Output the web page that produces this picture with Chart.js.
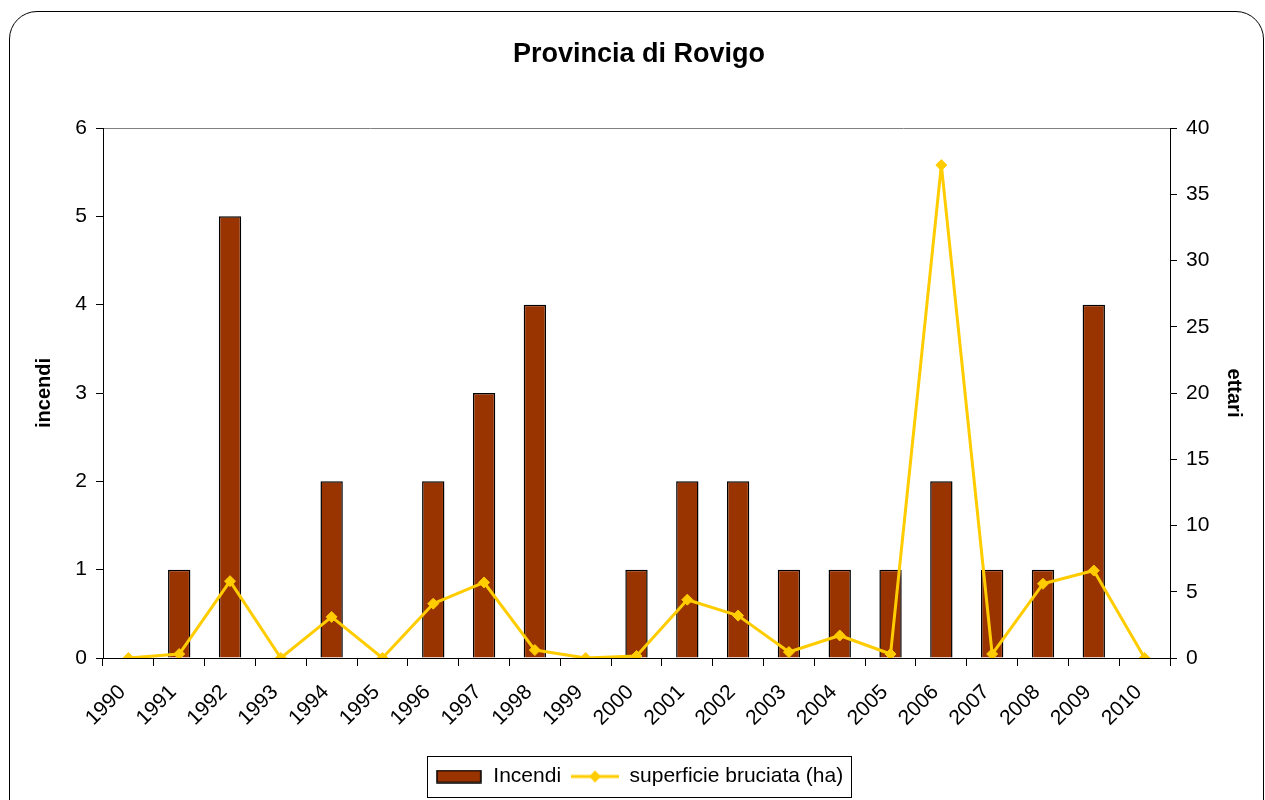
<!DOCTYPE html>
<html>
<head>
<meta charset="utf-8">
<script src="https://cdn.jsdelivr.net/npm/chart.js@4"></script>
<style>
  html, body { margin: 0; padding: 0; background: #fff; overflow: hidden; }
  #frame {
    position: absolute; left: 9px; top: 11px; width: 1253px; height: 820px;
    border: 1.5px solid #000; border-radius: 28px;
  }
  #chart { position: absolute; left: 0; top: 0; }
</style>
</head>
<body>
<div id="frame"></div>
<canvas id="chart" width="1265" height="800"></canvas>
<script>
  "use strict";

  // data
  var years = ["1990", "1991", "1992", "1993", "1994", "1995", "1996", "1997", "1998", "1999", "2000",
    "2001", "2002", "2003", "2004", "2005", "2006", "2007", "2008", "2009", "2010"];
  var incendi = [0, 1, 5, 0, 2, 0, 2, 3, 4, 0, 1, 2, 2, 1, 1, 1, 2, 1, 1, 4, 0];
  var superficie = [0, 0.3, 5.8, 0, 3.1, 0, 4.1, 5.7, 0.6, 0, 0.15, 4.4, 3.2, 0.45, 1.7, 0.3, 37.2, 0.3, 5.6, 6.6, 0];

  var brown = "#993300";
  var yellow = "#FFCC00";

  Chart.defaults.font.family = "Arial, 'Liberation Sans', sans-serif";
  Chart.defaults.color = "#000";

  // legend swatches
  var barSwatch = document.createElement("canvas");
  barSwatch.width = 46;
  barSwatch.height = 14;
  var bctx = barSwatch.getContext("2d");
  bctx.fillStyle = brown;
  bctx.fillRect(1, 1, 44, 12);
  bctx.strokeStyle = "#000";
  bctx.lineWidth = 1.5;
  bctx.strokeRect(1, 1, 44, 12);

  var lineSwatch = document.createElement("canvas");
  lineSwatch.width = 48;
  lineSwatch.height = 14;
  var lctx = lineSwatch.getContext("2d");
  lctx.strokeStyle = yellow;
  lctx.lineWidth = 3;
  lctx.beginPath();
  lctx.moveTo(0, 7);
  lctx.lineTo(48, 7);
  lctx.stroke();
  lctx.fillStyle = yellow;
  lctx.beginPath();
  lctx.moveTo(24, 1);
  lctx.lineTo(30, 7);
  lctx.lineTo(24, 13);
  lctx.lineTo(18, 7);
  lctx.closePath();
  lctx.fill();

  // box around the legend, as in the original
  var legendBox = {
    id: "legendBox",
    afterDraw: function (chart) {
      var lg = chart.legend;
      if (!lg || !lg.legendHitBoxes.length) return;
      var l = Infinity, r = -Infinity;
      lg.legendHitBoxes.forEach(function (b) {
        l = Math.min(l, b.left);
        r = Math.max(r, b.left + b.width);
      });
      var c = chart.ctx;
      c.save();
      c.strokeStyle = "#000";
      c.lineWidth = 1;
      c.strokeRect(Math.round(l - 8) + 0.5, Math.round(lg.top) + 0.5, Math.round(r - l + 16), Math.round(lg.height));
      c.restore();
    },
  };

  var canvas = document.getElementById("chart");

  var rovigoChart = new Chart(canvas, {
    type: "bar",
    data: {
      labels: years,
      datasets: [
        {
          label: "Incendi",
          data: incendi,
          backgroundColor: brown,
          borderColor: "#000",
          borderWidth: 1.5,
          categoryPercentage: 1,
          barPercentage: 0.44,
          yAxisID: "y",
          order: 1,
        },
        {
          type: "line",
          label: "superficie bruciata (ha)",
          data: superficie,
          borderColor: yellow,
          backgroundColor: yellow,
          borderWidth: 3,
          borderJoinStyle: "round",
          tension: 0,
          fill: false,
          pointStyle: "rectRot",
          pointRadius: 5.5,
          pointBorderWidth: 1,
          pointBackgroundColor: yellow,
          pointBorderColor: yellow,
          yAxisID: "y1",
          order: 0,
        },
      ],
    },
    options: {
      responsive: false,
      animation: false,
      layout: { padding: { left: 28, right: 15, top: 0, bottom: 3 } },
      plugins: {
        tooltip: { enabled: false },
        title: {
          display: true,
          text: "Provincia di Rovigo",
          font: { size: 27, weight: "bold" },
          color: "#000",
          padding: { top: 38, bottom: 57.6 },
        },
        legend: {
          position: "bottom",
          labels: {
            usePointStyle: true,
            pointStyleWidth: 48,
            padding: 10,
            font: { size: 21 },
            color: "#000",
            generateLabels: function (chart) {
              return [
                { text: "Incendi", pointStyle: barSwatch, datasetIndex: 0, lineWidth: 0, fontColor: "#000" },
                { text: "superficie bruciata (ha)", pointStyle: lineSwatch, datasetIndex: 1, lineWidth: 0, fontColor: "#000" },
              ];
            },
          },
        },
      },
      scales: {
        x: {
          offset: true,
          afterFit: function (scale) { scale.height = 98; },
          grid: { offset: true, drawOnChartArea: false, tickLength: 8, tickColor: "#000" },
          border: { color: "#000", width: 1 },
          ticks: {
            minRotation: 45, maxRotation: 45, autoSkip: false,
            padding: 14, labelOffset: -6,
            font: { size: 21 }, color: "#000",
          },
        },
        y: {
          position: "left",
          min: 0,
          max: 6,
          afterFit: function (scale) { scale.width = 75; },
          ticks: { stepSize: 1, padding: 9, font: { size: 21 }, color: "#000" },
          grid: {
            drawOnChartArea: true,
            tickLength: 7,
            tickColor: "#000",
            color: function (ctx) { return ctx.tick && ctx.tick.value === 6 ? "#808080" : "rgba(0,0,0,0)"; },
          },
          border: { color: "#000", width: 1 },
          title: { display: true, text: "incendi", font: { size: 20, weight: "bold" }, color: "#000" },
        },
        y1: {
          position: "right",
          min: 0,
          max: 40,
          afterFit: function (scale) { scale.width = 80; },
          ticks: { stepSize: 5, padding: 9, font: { size: 21 }, color: "#000" },
          grid: { drawOnChartArea: false, tickLength: 7, tickColor: "#000" },
          border: { color: "#000", width: 1 },
          title: { display: true, text: "ettari", font: { size: 20, weight: "bold" }, color: "#000" },
        },
      },
    },
    plugins: [legendBox],
  });
</script>
</body>
</html>
